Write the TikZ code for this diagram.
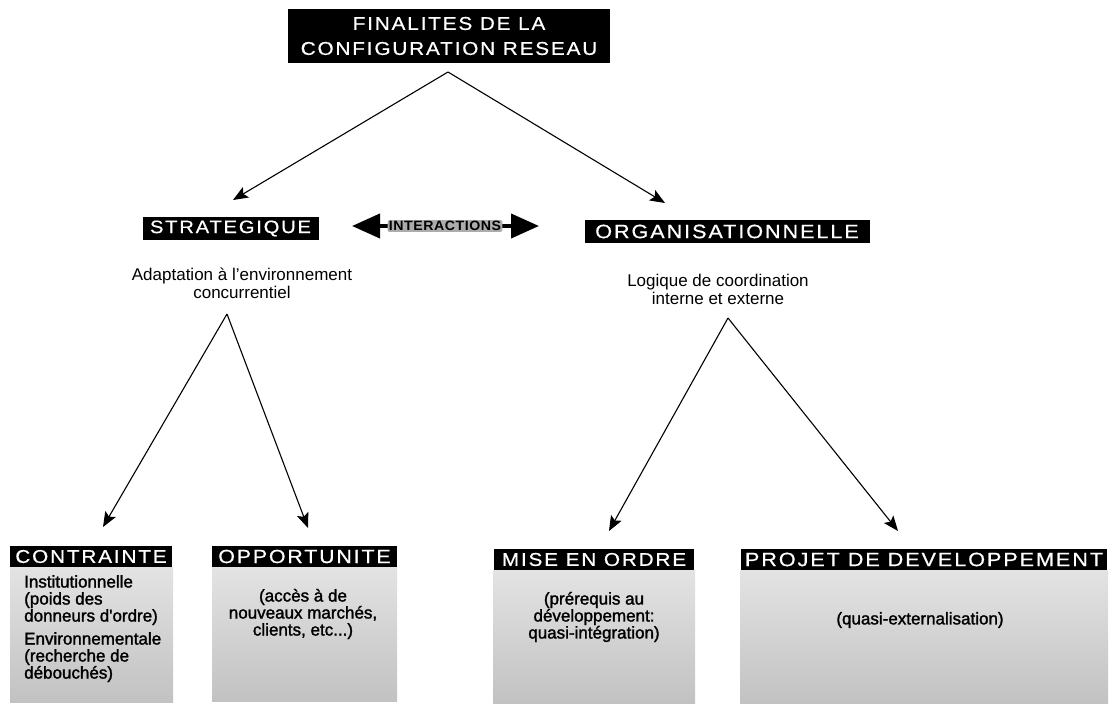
\documentclass[tikz,border=0pt]{standalone}
\usepackage{fontspec}
\setmainfont{Liberation Sans}
\newfontfamily\capsfont[FakeStretch=1.12,LetterSpace=10,FakeBold=0.6]{Liberation Sans}
\newfontfamily\tagfont[FakeStretch=1.05,LetterSpace=4]{Liberation Sans}
\newfontfamily\panelfont[FakeBold=1.6]{Liberation Sans}
\usetikzlibrary{arrows.meta}

\begin{document}
\begin{tikzpicture}[x=1pt,y=-1pt,
  hdr/.style={fill=black,text=white,inner sep=0pt,align=center,
    font=\capsfont\fontsize{18.5}{25}\selectfont},
  panel/.style={shading=axis,top color=gray!22,bottom color=gray!48,
    draw=none,inner sep=0pt,anchor=north west},
  body/.style={inner sep=0pt,align=center,font=\fontsize{17}{18}\selectfont},
  ptext/.style={inner sep=0pt,align=center,font=\panelfont\fontsize{17}{17}\selectfont},
  arr/.style={line width=1.1pt,-{Stealth[length=15pt,width=12pt,inset=3pt]}}]
\useasboundingbox (0,0) rectangle (1111,711);

% title
\node[hdr,minimum width=322pt,minimum height=54pt] (top) at (449,36)
  {FINALITES DE LA\\CONFIGURATION RESEAU};

% the two finalities
\node[hdr,minimum width=176pt,minimum height=23pt,font=\capsfont\fontsize{18}{20}\selectfont] (strat) at (230.5,228.5) {STRATEGIQUE};
\node[hdr,minimum width=285pt,minimum height=23pt,font=\capsfont\fontsize{19.3}{20}\selectfont] (orga) at (727,231.5) {ORGANISATIONNELLE};

\node[body] (adapt) at (242,283) {Adaptation à l'environnement\\concurrentiel};
\node[body] (logic) at (718,289) {Logique de coordination\\interne et externe};

% interaction double arrow
\coordinate (iL) at (352,226);
\coordinate (iR) at (539,226);
\draw[line width=4pt,{Triangle[length=28pt,width=24pt]}-{Triangle[length=28pt,width=24pt]}] (iL) -- (iR);
\node[fill=gray!65,inner sep=1.2pt,rounded corners=2pt,
  font=\tagfont\bfseries\fontsize{13.5}{14}\selectfont] (inter) at (445,226) {INTERACTIONS};

% bottom panels
\node[panel,minimum width=163pt,minimum height=135pt] (p1) at (10,567) {};
\node[panel,minimum width=185pt,minimum height=134pt] (p2) at (212,567) {};
\node[panel,minimum width=202pt,minimum height=133pt] (p3) at (493,570) {};
\node[panel,minimum width=368pt,minimum height=133pt] (p4) at (740,570) {};

\node[hdr,minimum width=162pt,minimum height=21pt] (contr) at (91,556.5) {CONTRAINTE};
\node[hdr,minimum width=185pt,minimum height=21pt,font=\capsfont\fontsize{19}{20}\selectfont] (oppo) at (304.5,556.5) {OPPORTUNITE};
\node[hdr,minimum width=200pt,minimum height=21pt] (mise) at (594,559.5) {MISE EN ORDRE};
\node[hdr,minimum width=366pt,minimum height=21pt,font=\capsfont\fontsize{19.3}{20}\selectfont] (proj) at (924,559.5) {PROJET DE DEVELOPPEMENT};

\node[ptext,align=left,anchor=north west] (t1) at (24,575)
  {Institutionnelle\\(poids des\\donneurs d'ordre)\\[6pt]Environnementale\\(recherche de\\débouchés)};
\node[ptext] (t2) at (303,614) {(accès à de\\nouveaux marchés,\\clients, etc...)};
\node[ptext] (t3) at (594,617) {(prérequis au\\développement:\\quasi-intégration)};
\node[ptext] (t4) at (920,620) {(quasi-externalisation)};

% arrows
\coordinate (aT) at (448,72);
\coordinate (aL) at (227,314);
\coordinate (aR) at (728,318);
\coordinate (tipS) at (233,200);
\coordinate (tipO) at (665,203);
\coordinate (tipC) at (103,527);
\coordinate (tipP) at (308,528);
\coordinate (tipM) at (609,531);
\coordinate (tipD) at (898,531);

\draw[arr] (aT) -- (tipS);
\draw[arr] (aT) -- (tipO);
\draw[arr] (aL) -- (tipC);
\draw[arr] (aL) -- (tipP);
\draw[arr] (aR) -- (tipM);
\draw[arr] (aR) -- (tipD);
\end{tikzpicture}
\end{document}
